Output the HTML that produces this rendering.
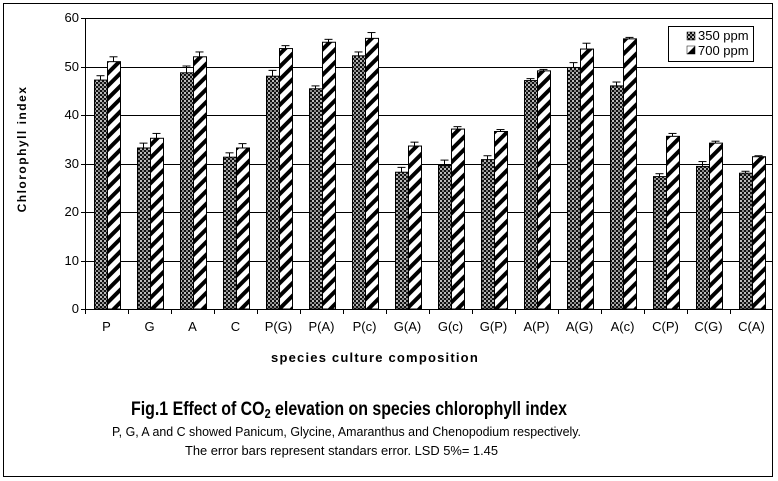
<!DOCTYPE html>
<html><head><meta charset="utf-8"><style>
html,body{margin:0;padding:0;background:#fff;}
svg{display:block;font-family:"Liberation Sans",Arial,sans-serif;}
</style></head><body>
<svg id="s" width="778" height="481" xmlns="http://www.w3.org/2000/svg">
<defs>
<pattern id="dk" width="4" height="4" patternUnits="userSpaceOnUse">
<rect width="4" height="4" fill="#111"/>
<rect x="0" y="0" width="2" height="2" fill="#bbb"/>
<rect x="2" y="2" width="2" height="2" fill="#888"/>
</pattern>
<pattern id="st" width="9" height="9" patternUnits="userSpaceOnUse" patternTransform="rotate(45)">
<rect width="9" height="9" fill="#fff"/>
<rect x="0" y="0" width="4" height="9" fill="#000"/>
</pattern>
</defs>
<rect x="3.5" y="3.5" width="769" height="473" fill="#fff" stroke="#000" stroke-width="1"/>
<g id="g"></g>
<g font-size="13" fill="#000" text-anchor="end">
<text x="79" y="22">60</text><text x="79" y="71">50</text><text x="79" y="119">40</text>
<text x="79" y="168">30</text><text x="79" y="216">20</text><text x="79" y="265">10</text><text x="79" y="313">0</text>
</g>
<text transform="translate(26,149) rotate(-90)" text-anchor="middle" font-size="12" font-weight="bold" letter-spacing="1.5">Chlorophyll index</text>
<text x="375" y="362" text-anchor="middle" font-size="13" font-weight="bold" letter-spacing="1.2">species culture composition</text>
<text x="131" y="415" font-size="19" font-weight="bold" textLength="436" lengthAdjust="spacingAndGlyphs">Fig.1 Effect of CO<tspan font-size="13" dy="3">2</tspan><tspan dy="-3"> elevation on species chlorophyll index</tspan></text>
<text x="112" y="436" font-size="13" textLength="469" lengthAdjust="spacingAndGlyphs">P, G, A and C showed  Panicum, Glycine, Amaranthus and Chenopodium respectively.</text>
<text x="185" y="455" font-size="13" textLength="313" lengthAdjust="spacingAndGlyphs">The error bars represent standars error. LSD 5%= 1.45</text>
<rect x="668.5" y="26.5" width="85" height="35" fill="#fff" stroke="#000"/>
<rect x="687" y="32" width="8" height="8" fill="url(#dk)" stroke="#000" stroke-width="0.5"/>
<rect x="687" y="46" width="8" height="8" fill="#fff" stroke="#000" stroke-width="0.5"/>
<polygon points="687,54 695,46 695,54" fill="#000"/>
<text x="698" y="40" font-size="13">350 ppm</text>
<text x="698" y="55" font-size="13">700 ppm</text>
</svg>
<script>
var d=[["P",47.2,51],["G",33.2,35.2],["A",48.7,52],["C",31.3,33.2],["P(G)",48,53.7],["P(A)",45.4,55],["P(c)",52.2,55.8],["G(A)",28.2,33.6],["G(c)",29.6,37.1],["G(P)",30.8,36.6],["A(P)",47.1,49.1],["A(G)",49.8,53.6],["A(c)",46,55.7],["C(P)",27.3,35.6],["C(G)",29.4,34.2],["C(A)",28,31.4]];
var e=[[0.9,1],[1,1],[1.4,1],[0.9,0.9],[1.2,0.6],[0.6,0.6],[0.8,1.2],[1,0.8],[1.1,0.5],[0.8,0.4],[0.4,0.3],[1,1.2],[0.8,0.3],[0.6,0.6],[1,0.4],[0.4,0.2]];
var L=85,T=18,B=309,R=773,W=43,s=(B-T)/60,h="";
for(var k=1;k<=6;k++){var y=Math.round(B-k*10*s)+0.5;h+='<line x1="'+L+'" x2="'+R+'" y1="'+y+'" y2="'+y+'" stroke="#000"/>';}
h+='<line x1="'+(L+0.5)+'" x2="'+(L+0.5)+'" y1="'+T+'" y2="'+B+'" stroke="#000"/>';
h+='<line x1="'+L+'" x2="'+R+'" y1="'+(B+0.5)+'" y2="'+(B+0.5)+'" stroke="#000"/>';
h+='<line x1="'+(R-0.5)+'" x2="'+(R-0.5)+'" y1="'+T+'" y2="'+B+'" stroke="#000"/>';
for(var k=0;k<=6;k++){var y=Math.round(B-k*10*s)+0.5;h+='<line x1="'+(L-4)+'" x2="'+L+'" y1="'+y+'" y2="'+y+'" stroke="#000"/>';}
for(var i=0;i<16;i++){var x0=L+i*W;
h+='<line x1="'+(x0+0.5)+'" x2="'+(x0+0.5)+'" y1="'+B+'" y2="'+(B+5)+'" stroke="#000"/>';
var bx=[x0+9,x0+22];var f=["url(#dk)","url(#st)"];
for(var j=0;j<2;j++){var v=d[i][j+1],y=B-v*s,ey=B-(v+e[i][j])*s,cx=bx[j]+6.5;
h+='<line x1="'+cx+'" x2="'+cx+'" y1="'+ey+'" y2="'+y+'" stroke="#000"/>';
h+='<line x1="'+(cx-4)+'" x2="'+(cx+4)+'" y1="'+ey+'" y2="'+ey+'" stroke="#000"/>';
h+='<rect x="'+(bx[j]+0.5)+'" y="'+y+'" width="13" height="'+(B-y)+'" fill="'+f[j]+'" stroke="#000"/>';}
h+='<text x="'+(x0+21.5)+'" y="331" text-anchor="middle" font-size="13">'+d[i][0]+'</text>';}
document.getElementById("g").innerHTML=h;
</script>
</body></html>
